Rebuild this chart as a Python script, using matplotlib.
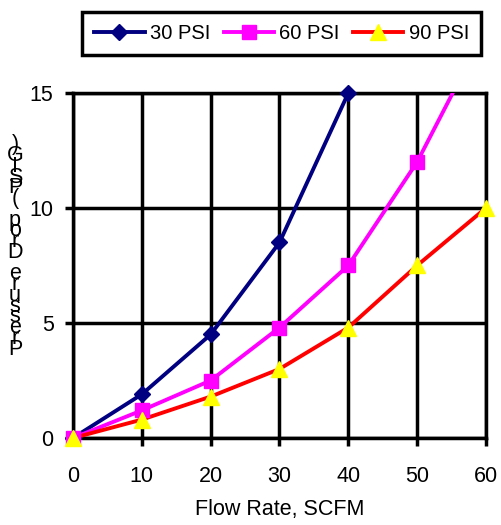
import numpy as np
import matplotlib.pyplot as plt

plt.rcParams['font.family'] = ['Liberation Sans', 'DejaVu Sans']

flow = [0, 10, 20, 30, 40, 50, 60]
psi30 = [0, 1.9, 4.5, 8.5, 15.0]
psi60 = [0, 1.2, 2.5, 4.8, 7.5, 12.0, 17.8]
psi90 = [0, 0.8, 1.8, 3.0, 4.8, 7.5, 10.0]

series = [
    ('30 PSI', psi30, '#000080', 'D', '#000080', 8),
    ('60 PSI', psi60, '#ff00ff', 's', '#ff00ff', 10),
    ('90 PSI', psi90, '#ff0000', '^', '#ffff00', 11),
]

fig = plt.figure(figsize=(5.01, 5.25), dpi=100)
ax = fig.add_axes([0.1457, 0.1657, 0.8243, 0.6572])

handles = []
for name, ys, col, mk, mcol, ms in series:
    xs = np.array(flow[:len(ys)])
    ys = np.array(ys)
    ax.plot(xs, ys, color=col, lw=2.8, zorder=3)
    keep = ys <= 15
    ax.plot(xs[keep], ys[keep], ls='none', marker=mk, ms=ms, color=mcol,
            mec=mcol, zorder=4, clip_on=False)
    h, = ax.plot([], [], color=col, lw=2.8, marker=mk, ms=ms, mfc=mcol, mec=mcol)
    h.set_label(name)
    handles.append(h)

ax.set_xlim(0, 60)
ax.set_ylim(0, 15)
ax.set_xticks(range(0, 61, 10))
ax.set_yticks([0, 5, 10, 15])
ax.grid(True, color='black', lw=2.5)
ax.set_axisbelow(True)
for s in ax.spines.values():
    s.set_linewidth(2.5)
ax.tick_params(direction='out', length=6, width=2.5, labelsize=15.5)
ax.tick_params(axis='x', pad=14)
ax.tick_params(axis='y', pad=8)
ax.set_xlabel('Flow Rate, SCFM', fontsize=15.5, labelpad=9)

# garbled y label: upright letters stacked bottom to top, overlapping
label = 'Pressure Drop (PSIG)'
fig.text(15 / 501, 1 - 247 / 525, '\n'.join(label[::-1]), fontsize=15.5,
         ha='center', va='center', linespacing=0.36, multialignment='center')

leg = fig.legend(handles=handles, loc='lower left', ncol=3, mode='expand',
                 bbox_to_anchor=(0.164, 0.895, 0.796, 0.09), fontsize=14.5,
                 frameon=True, fancybox=False, edgecolor='black', framealpha=1,
                 handlelength=2.5, handletextpad=0.25, columnspacing=0.4,
                 borderaxespad=0, borderpad=0.6)
leg.get_frame().set_linewidth(2.5)

fig.savefig('out.png', dpi=100)
